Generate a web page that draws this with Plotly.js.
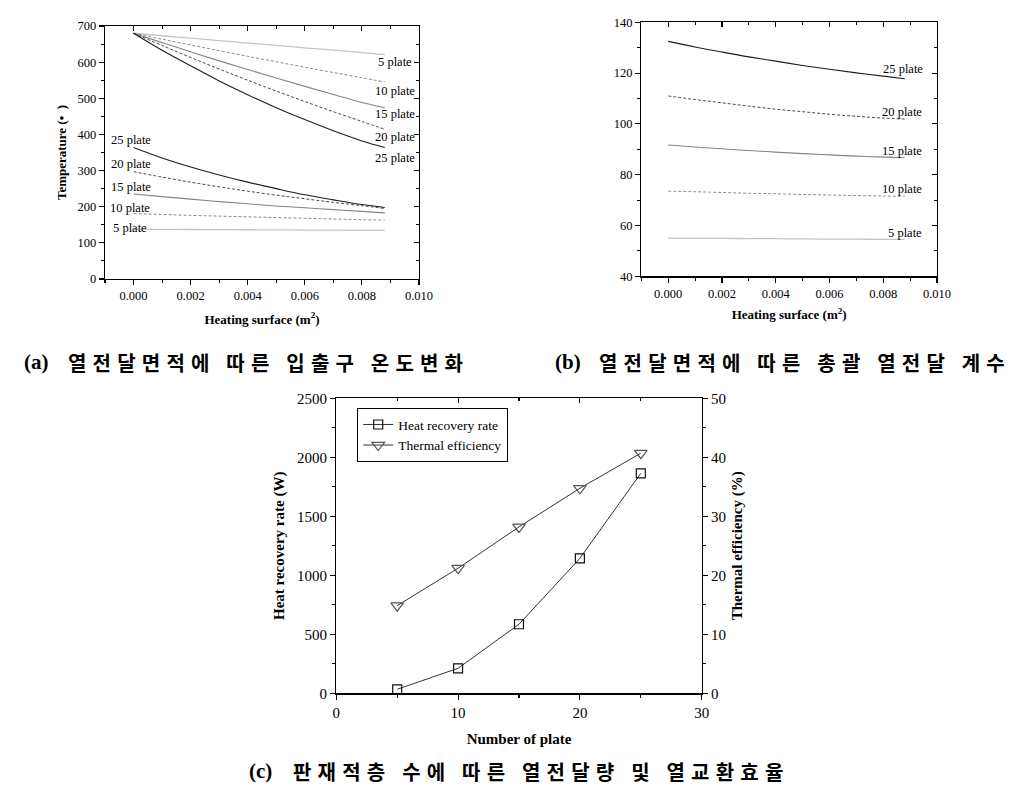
<!DOCTYPE html>
<html>
<head>
<meta charset="utf-8">
<script src="https://cdn.plot.ly/plotly-3.0.1.min.js"></script>
<style>
html,body{margin:0;padding:0;background:#fff;}
#chart{width:1033px;height:786px;}
</style>
</head>
<body>
<div id="chart"></div>
<script>
// ---------- Data ----------
// (a) inlet/outlet temperature vs heating surface
const surfaceA = [0, 0.001, 0.002, 0.003, 0.004, 0.005, 0.006, 0.007, 0.008, 0.0088];
const hot5  = [680, 673, 666.2, 659.5, 652.8, 646.2, 639.6, 633.1, 626.6, 621];
const hot10 = [680, 663.5, 647.5, 631.7, 616.2, 601, 586, 571.3, 556.8, 545];
const hot15 = [680, 654, 628.5, 603.5, 579.5, 556, 533, 510.5, 488.5, 474];
const hot20 = [680, 646, 613, 581, 550, 520, 491, 463, 436, 414];
const hot25 = [680, 633, 590, 548, 510, 474, 441, 410, 382, 364];
const cold5  = [137.5, 137.2, 136.9, 136.6, 136.2, 135.9, 135.5, 135.2, 134.8, 134.5];
const cold10 = [181, 178.5, 176, 174, 172, 170, 168, 166, 164, 163];
const cold15 = [235, 228, 221, 214, 208, 202, 197, 192, 187, 183];
const cold20 = [297, 282, 268, 255, 243, 232, 222, 212, 203, 195];
const cold25 = [364, 335, 310, 288, 268, 250, 233, 219, 206, 198];
// (b) overall heat transfer coefficient vs heating surface
const surfaceB = [0, 0.001, 0.002, 0.003, 0.004, 0.005, 0.006, 0.007, 0.008, 0.0088];
const coef5  = [55, 54.95, 54.9, 54.85, 54.8, 54.7, 54.65, 54.6, 54.55, 54.5];
const coef10 = [73.5, 73.3, 73.0, 72.7, 72.5, 72.2, 72.0, 71.8, 71.6, 71.5];
const coef15 = [91.7, 90.9, 90.2, 89.5, 88.9, 88.3, 87.8, 87.3, 86.9, 86.7];
const coef20 = [111, 109.6, 108.3, 107.0, 105.8, 104.8, 103.8, 103.0, 102.3, 101.9];
const coef25 = [132.5, 130.3, 128.3, 126.4, 124.7, 123.0, 121.5, 120.1, 118.8, 117.8];
// (c) heat recovery rate and thermal efficiency vs number of plates
const plates = [5, 10, 15, 20, 25];
const heatRecovery = [34, 212, 585, 1144, 1864];
const thermalEff = [14.85, 21.2, 28.2, 34.75, 40.7];
// labels
const plateLabels = ['5 plate', '10 plate', '15 plate', '20 plate', '25 plate'];
const captionTags = ['(a)', '(b)', '(c)'];
const captionTexts = ['열전달면적에 따른 입출구 온도변화', '열전달면적에 따른 총괄 열전달 계수', '판재적층 수에 따른 열전달량 및 열교환효율'];

// ---------- Styles ----------
const SERIF = 'Liberation Serif, Times New Roman, serif';
const styles = [
  {color:'#c4c4c4', dash:'solid', width:1.3},
  {color:'#8c8c8c', dash:'3px,2px', width:1},
  {color:'#858585', dash:'solid', width:1.1},
  {color:'#4a4a4a', dash:'3px,2px', width:1},
  {color:'#1e1e1e', dash:'solid', width:1.1}
];

const traces = [];
const hotA = [hot5, hot10, hot15, hot20, hot25];
const coldA = [cold5, cold10, cold15, cold20, cold25];
const coefB = [coef5, coef10, coef15, coef20, coef25];
for (let i = 0; i < 5; i++) {
  traces.push({x: surfaceA, y: hotA[i], xaxis:'x', yaxis:'y', mode:'lines', line:Object.assign({shape:'spline'}, styles[i]), showlegend:false, hoverinfo:'skip'});
  traces.push({x: surfaceA, y: coldA[i], xaxis:'x', yaxis:'y', mode:'lines', line:Object.assign({shape:'spline'}, styles[i]), showlegend:false, hoverinfo:'skip'});
  traces.push({x: surfaceB, y: coefB[i], xaxis:'x2', yaxis:'y2', mode:'lines', line:Object.assign({shape:'spline'}, styles[i]), showlegend:false, hoverinfo:'skip'});
}
traces.push({x: plates, y: heatRecovery, xaxis:'x3', yaxis:'y3', mode:'lines+markers', name:'Heat recovery rate',
  line:{color:'#333', width:1}, marker:{symbol:'square-open', size:9, color:'#111', line:{width:1.2}}});
traces.push({x: plates, y: thermalEff, xaxis:'x3', yaxis:'y4', mode:'lines+markers', name:'Thermal efficiency',
  line:{color:'#333', width:1}, marker:{symbol:'triangle-down-open', size:11, color:'#555', line:{width:1.2}}});
// empty traces to activate mirror-tick axes
traces.push({x:[], y:[], xaxis:'x5', yaxis:'y5', showlegend:false, hoverinfo:'skip'});
traces.push({x:[], y:[], xaxis:'x6', yaxis:'y6', showlegend:false, hoverinfo:'skip'});
traces.push({x:[], y:[], xaxis:'x7', yaxis:'y3', showlegend:false, hoverinfo:'skip'});

const W = 1033, H = 786;
const dx = (a, b) => [a / W, b / W];
const dy = (top, bot) => [1 - bot / H, 1 - top / H];

function baseAxis(o) {
  return Object.assign({
    showgrid:false, zeroline:false, showline:true, linecolor:'#000', linewidth:1.2,
    ticks:'outside', ticklen:5, tickwidth:1.1, tickcolor:'#000',
    tickfont:{family:SERIF, size:12.5, color:'#000'}, fixedrange:true
  }, o);
}
function mirrorAxis(o) {
  return Object.assign({
    showgrid:false, zeroline:false, showline:false, showticklabels:false,
    ticks:'inside', ticklen:5, tickwidth:1.1, tickcolor:'#000', fixedrange:true
  }, o);
}

const domA_x = dx(105, 419), domA_y = dy(26, 279);
const domB_x = dx(641.3, 937), domB_y = dy(22.3, 276.3);
const domC_x = dx(336.3, 701.7), domC_y = dy(398.3, 693.3);
const rA_x = [-0.001, 0.010], rA_y = [0, 700];
const rB_y = [40, 140];

const layout = {
  width: W, height: H,
  margin:{l:0, r:0, t:0, b:0},
  paper_bgcolor:'#fff', plot_bgcolor:'rgba(0,0,0,0)',
  font:{family:SERIF, color:'#000'},
  showlegend:true,
  legend:{x:357/W, y:1-408/H, xanchor:'left', yanchor:'top', bgcolor:'#fff', bordercolor:'#000', borderwidth:1.2,
    font:{family:SERIF, size:13.5, color:'#000'}, tracegroupgap:0, itemwidth:30},
  // (a)
  xaxis: baseAxis({domain:domA_x, anchor:'y', range:rA_x, tick0:0, dtick:0.002, tickformat:'.3f',
    minor:{ticks:'outside', ticklen:3, dtick:0.001, tickcolor:'#000'},
    title:{text:'<b>Heating surface (m<sup>2</sup>)</b>', font:{family:SERIF, size:13}, standoff:12}, mirror:true}),
  yaxis: baseAxis({domain:domA_y, anchor:'x', range:rA_y, dtick:100,
    minor:{ticks:'outside', ticklen:3, dtick:50, tickcolor:'#000'},
    title:{text:'<b>Temperature (•  )</b>', font:{family:SERIF, size:13}, standoff:8}, mirror:true}),
  xaxis5: mirrorAxis({overlaying:'x', side:'top', anchor:'y5', range:rA_x, tick0:0, dtick:0.002,
    minor:{ticks:'inside', ticklen:3, dtick:0.001, tickcolor:'#000'}}),
  yaxis5: mirrorAxis({overlaying:'y', side:'right', anchor:'x5', range:rA_y, dtick:100,
    minor:{ticks:'inside', ticklen:3, dtick:50, tickcolor:'#000'}}),
  // (b)
  xaxis2: baseAxis({domain:domB_x, anchor:'y2', range:rA_x, tick0:0, dtick:0.002, tickformat:'.3f',
    minor:{ticks:'outside', ticklen:3, dtick:0.001, tickcolor:'#000'},
    title:{text:'<b>Heating surface (m<sup>2</sup>)</b>', font:{family:SERIF, size:13}, standoff:10}, mirror:true}),
  yaxis2: baseAxis({domain:domB_y, anchor:'x2', range:rB_y, dtick:20,
    minor:{ticks:'outside', ticklen:3, dtick:10, tickcolor:'#000'}, mirror:true}),
  xaxis6: mirrorAxis({overlaying:'x2', side:'top', anchor:'y6', range:rA_x, tick0:0, dtick:0.002,
    minor:{ticks:'inside', ticklen:3, dtick:0.001, tickcolor:'#000'}}),
  yaxis6: mirrorAxis({overlaying:'y2', side:'right', anchor:'x6', range:rB_y, dtick:20,
    minor:{ticks:'inside', ticklen:3, dtick:10, tickcolor:'#000'}}),
  // (c)
  xaxis3: baseAxis({domain:domC_x, anchor:'y3', range:[0, 30], dtick:10, tickfont:{family:SERIF, size:15, color:'#000'},
    minor:{ticks:'outside', ticklen:3, dtick:5, tickcolor:'#000'},
    title:{text:'<b>Number of plate</b>', font:{family:SERIF, size:15}, standoff:14}, mirror:true}),
  yaxis3: baseAxis({domain:domC_y, anchor:'x3', range:[0, 2500], dtick:500, tickfont:{family:SERIF, size:15, color:'#000'},
    minor:{ticks:'outside', ticklen:3, dtick:250, tickcolor:'#000'},
    title:{text:'<b>Heat recovery rate (W)</b>', font:{family:SERIF, size:15}, standoff:8}}),
  yaxis4: baseAxis({overlaying:'y3', side:'right', anchor:'x3', range:[0, 50], dtick:10, tickfont:{family:SERIF, size:15, color:'#000'},
    minor:{ticks:'outside', ticklen:3, dtick:5, tickcolor:'#000'},
    title:{text:'<b>Thermal efficiency (%)</b>', font:{family:SERIF, size:15}, standoff:6}}),
  xaxis7: mirrorAxis({overlaying:'x3', side:'top', anchor:'y3', range:[0, 30], dtick:10,
    minor:{ticks:'inside', ticklen:3, dtick:5, tickcolor:'#000'}}),
  annotations: []
};

// plate labels, (a) right side (hot outlet) and left side (cold)
const aRightX = [0.00983, 0.00994, 0.00994, 0.00994, 0.00994];
const aRightY = [600, 521, 457, 393, 335];
const aLeftX = [-0.00080, -0.00088, -0.00086, -0.00086, -0.00086];
const aLeftY = [141, 196, 255, 318, 385];
const bRightX = [0.00953, 0.00953, 0.00953, 0.00953, 0.00956];
const bRightY = [57, 74.4, 89.3, 104.7, 121.6];
const lblFont = {family:SERIF, size:12.5, color:'#000'};
for (let i = 0; i < 5; i++) {
  layout.annotations.push({xref:'x', yref:'y', x:aRightX[i], y:aRightY[i], text:plateLabels[i], showarrow:false, xanchor:'right', yanchor:'middle', font:lblFont});
  layout.annotations.push({xref:'x', yref:'y', x:aLeftX[i], y:aLeftY[i], text:plateLabels[i], showarrow:false, xanchor:'left', yanchor:'middle', font:lblFont});
  layout.annotations.push({xref:'x2', yref:'y2', x:bRightX[i], y:bRightY[i], text:plateLabels[i], showarrow:false, xanchor:'right', yanchor:'middle', font:lblFont});
}
// captions: tag (serif) + Korean body (letter-spaced after render)
const tagX = [22, 553, 247], bodyX = [66, 597, 291], capY = [362, 362, 771];
const tagFont = {family:SERIF, size:21, color:'#000'};
const bodyFont = {family:'Noto Sans CJK KR', size:20, color:'#000'};
for (let i = 0; i < 3; i++) {
  layout.annotations.push({xref:'paper', yref:'paper', x:tagX[i]/W, y:1-capY[i]/H, text:'<b>'+captionTags[i]+'</b>', showarrow:false, xanchor:'left', align:'left', yanchor:'middle', font:tagFont});
  layout.annotations.push({xref:'paper', yref:'paper', x:bodyX[i]/W, y:1-capY[i]/H, text:'<b>'+captionTexts[i]+'</b>', showarrow:false, xanchor:'left', align:'left', yanchor:'middle', font:bodyFont});
}

Plotly.newPlot('chart', traces, layout, {staticPlot:true, displayModeBar:false}).then(function(){
  document.querySelectorAll('.annotation-text').forEach(function(t){
    if (/[\uAC00-\uD7A3]/.test(t.textContent)) { t.style.letterSpacing = '6.2px'; }
  });
});
</script>
</body>
</html>
